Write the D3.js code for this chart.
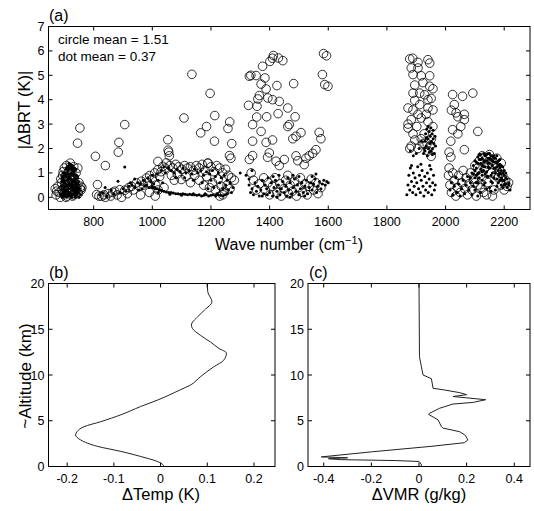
<!DOCTYPE html>
<html><head><meta charset="utf-8">
<script src="https://cdn.jsdelivr.net/npm/d3@7"></script>
<style>body{margin:0;background:#fff}svg{display:block}text{font-family:"Liberation Sans",Arial,sans-serif;fill:#000}</style>
</head><body><svg id="c" width="534" height="511"></svg>
<script>
// ---------- Panel (a): open circles [wave number, |dBRT|] ----------
const circles700 = [[669,0.35],[672,0.1],[678,0.45],[682,0.2],[686,0.0],[690,0.6],[692,0.3],[694,0.9],[698,0.15],[700,1.2],[702,0.5],[704,0.75],[707,1.3],[709,0.05],[711,0.4],[713,1.0],[716,0.2],[718,0.65],[720,1.4],[722,0.9],[724,0.3],[726,1.1],[728,0.05],[730,0.55],[732,1.25],[734,0.8],[736,0.25],[738,0.45],[740,1.0],[743,0.35],[746,1.2],[748,0.15],[750,0.6],[754,0.35],[757,0.3],[745,2.22],[753,2.84],[706,0.0],[688,0.75],[674,0.25],[696,1.05],[703,0.85],[731,0.1],[756,0.45],[760,0.4]];
const circles900 = [[806,1.68],[840,1.3],[813,0.52],[886,2.25],[884,1.85],[906,2.98],[810,0.11],[818,0.05],[827,0.04],[835,0.1],[840,0.0],[849,0.15],[858,0.05],[865,0.2],[872,0.25],[880,0.1],[889,0.31],[895,0.0],[906,0.29],[915,0.15],[920,0.4],[929,0.45],[935,0.3],[946,0.59],[955,0.45],[963,0.66],[970,0.5],[980,0.79],[985,0.6],[991,0.89],[1000,0.75],[1008,1.0],[1012,0.5],[1019,1.13],[1025,0.85],[1036,1.27],[1040,0.4],[1048,1.41],[1030,1.05],[1045,1.2],[960,0.1],[990,0.2],[1010,0.05],[1020,0.3],[1019,1.47],[1053,2.36],[1054,1.93],[1056,1.85],[1058,1.7]];
const circles1150 = [[1060,1.3],[1070,1.2],[1080,1.35],[1090,1.25],[1100,1.15],[1110,1.3],[1120,1.2],[1130,1.25],[1140,1.1],[1150,1.3],[1160,1.2],[1170,1.35],[1180,1.1],[1190,1.4],[1200,1.25],[1210,1.05],[1220,1.3],[1230,1.2],[1240,1.0],[1250,1.15],[1260,0.9],[1270,0.8],[1280,0.7],[1065,0.9],[1075,0.7],[1085,0.95],[1099,0.73],[1115,0.85],[1130,0.6],[1145,0.9],[1160,0.7],[1175,0.5],[1185,0.85],[1195,0.4],[1205,0.6],[1215,0.3],[1225,0.75],[1235,0.45],[1245,0.25],[1255,0.5],[1265,0.35],[1240,0.1],[1230,0.05],[1108,3.25],[1135,5.04],[1165,2.64],[1185,2.9],[1197,4.26],[1213,3.35],[1258,2.82],[1264,3.09],[1212,2.3],[1271,2.2],[1263,1.71],[1268,1.6],[1189,1.4]];
const circles1450 = [[1413,5.81],[1430,5.71],[1445,5.6],[1401,5.57],[1410,5.7],[1376,5.37],[1331,4.96],[1336,5.0],[1354,4.99],[1384,4.89],[1371,4.64],[1388,4.44],[1425,4.58],[1482,4.66],[1365,4.17],[1360,4.03],[1394,4.07],[1410,4.0],[1433,3.93],[1357,3.73],[1462,3.66],[1429,3.43],[1487,3.3],[1390,3.3],[1584,5.89],[1594,5.8],[1580,5.03],[1588,4.62],[1599,4.55],[1328,3.77],[1356,3.29],[1342,2.98],[1371,2.7],[1342,2.3],[1388,2.25],[1410,2.35],[1467,2.98],[1462,2.9],[1490,2.5],[1507,2.65],[1479,2.4],[1569,2.66],[1575,2.4],[1558,1.95],[1547,1.8],[1535,1.7],[1524,1.6],[1518,1.34],[1331,1.55],[1342,1.71],[1399,1.82],[1393,1.64],[1422,1.48],[1450,1.55],[1433,1.3],[1462,0.9],[1337,1.0],[1490,1.7],[1496,1.5],[1385,0.3],[1395,0.6],[1400,0.1],[1410,0.45],[1418,0.8],[1425,0.2],[1435,0.55],[1440,0.05],[1448,0.35],[1455,0.7],[1465,0.15],[1470,0.5],[1478,0.25],[1485,0.65],[1492,0.05],[1500,0.4],[1505,0.8],[1512,0.2],[1520,0.55],[1528,0.1],[1535,0.45],[1542,0.75],[1550,0.3],[1558,0.6],[1565,0.15],[1575,0.4],[1380,0.8],[1345,0.7],[1355,0.3],[1365,0.55]];
const circles1900 = [[1878,5.67],[1888,5.7],[1906,5.53],[1940,5.64],[1946,5.5],[1883,5.3],[1906,5.3],[1889,5.03],[1917,4.98],[1946,4.98],[1895,4.6],[1923,4.7],[1946,4.55],[1957,4.45],[1889,4.27],[1912,4.27],[1929,4.2],[1940,4.0],[1951,4.05],[1895,3.97],[1912,3.8],[1872,3.66],[1889,3.58],[1940,3.66],[1957,3.58],[1906,3.4],[1934,3.4],[1883,3.18],[1917,3.25],[1940,3.1],[1872,2.84],[1889,2.6],[1895,2.35],[1883,2.1],[1878,2.0],[1906,2.0],[1923,2.2],[1940,1.9],[1951,1.68],[1927,2.6],[1952,2.4],[1957,2.9],[1902,2.9],[1872,3.0],[1917,2.4],[1937,2.2],[1947,2.1]];
const circles2100 = [[2024,4.21],[2058,4.14],[2093,4.27],[2030,3.8],[2036,3.46],[2064,3.4],[2020,3.57],[2042,3.3],[2024,2.77],[2042,2.6],[2018,2.3],[2064,1.95],[2012,1.85],[2018,1.65],[2012,1.2],[2064,3.18],[2110,2.7],[2052,2.9],[2010,0.9],[2015,0.5],[2020,0.2],[2025,1.0],[2030,0.7],[2035,0.05],[2040,0.4],[2045,0.9],[2050,0.2],[2055,0.6],[2060,1.1],[2065,0.35],[2070,0.8],[2075,0.1],[2080,0.55],[2085,1.0],[2090,0.3],[2095,0.75],[2100,1.3],[2105,0.05],[2110,0.5],[2115,1.5],[2120,0.9],[2125,1.7],[2130,0.2],[2135,1.2],[2140,1.6],[2145,0.6],[2150,1.75],[2155,1.0],[2160,1.5],[2165,0.3],[2170,1.3],[2175,1.6],[2180,0.8],[2185,1.1],[2190,0.5],[2195,0.9],[2200,0.3],[2205,0.7],[2210,0.45],[2215,0.6],[2140,0.1],[2160,0.05],[2120,0.4],[2100,0.6],[2170,0.9],[2190,1.4],[2110,1.2],[2145,1.35]];

// ---------- Panel (a): dots [wave number, |dBRT|] ----------
const dots700 = [[688,0.1],[690,0.3],[692,0.0],[694,0.5],[695,0.2],[697,0.8],[698,0.05],[700,0.4],[701,0.65],[702,1.0],[703,0.15],[704,0.3],[705,0.55],[706,0.85],[707,1.2],[708,0.0],[709,0.25],[710,0.45],[711,0.7],[712,0.95],[713,1.1],[714,0.1],[715,0.35],[716,0.6],[717,0.8],[718,1.3],[719,0.05],[720,0.2],[721,0.5],[722,0.75],[723,1.0],[724,1.2],[725,0.3],[726,0.0],[727,0.6],[728,0.9],[729,0.15],[730,0.4],[731,0.7],[732,1.05],[733,0.25],[734,0.5],[735,0.8],[736,0.05],[737,0.35],[738,0.6],[739,1.15],[740,0.2],[741,0.45],[742,0.75],[744,0.1],[745,0.3],[746,0.55],[748,0.2],[750,0.0],[752,0.35],[755,0.1],[700,0.9],[696,0.7],[712,0.25],[725,0.9],[718,0.55],[709,1.0],[730,0.95],[715,1.25],[720,1.35],[727,1.3],[693,0.1],[699,0.25],[724,0.45],[735,0.15],[705,0.05]];
const dots700b = [[689,0.45],[691,0.65],[693,0.85],[695,1.0],[697,0.35],[699,0.6],[701,0.1],[703,0.95],[705,1.15],[707,0.3],[709,0.7],[711,0.15],[713,0.5],[715,0.85],[717,0.15],[719,0.95],[721,1.15],[723,0.4],[725,0.65],[727,0.1],[729,1.1],[731,0.3],[733,0.9],[735,1.2],[737,0.7],[739,0.4],[741,0.9],[743,0.55],[745,0.85],[747,0.4],[749,0.65],[710,1.25],[716,1.4],[722,1.3],[728,1.2],[714,0.75],[726,0.5],[732,0.65],[706,0.45],[738,0.0],[742,0.25],[698,0.45]];
const dots1000 = [[906,1.24],[883,0.66],[839,0.4],[830,0.2],[820,0.1],[845,0.05],[860,0.3],[870,0.15],[890,0.2],[900,0.35],[910,0.25],[920,0.45],[930,0.5],[940,0.4],[950,0.6],[960,0.55],[970,0.7],[975,0.45],[985,0.8],[995,0.65],[1000,0.9],[1005,0.55],[1015,0.95],[1020,0.7],[1030,1.1],[1035,0.6],[1045,1.0],[1040,1.25],[965,0.35],[980,0.5],[955,0.3],[990,0.4],[1010,0.35],[1025,0.3],[1000,0.4],[940,0.75],[925,0.6],[1000,0.45],[1008,0.4],[1016,0.35],[1024,0.3],[1032,0.28],[1040,0.25],[1048,0.22],[1056,0.2],[1064,0.2],[1072,0.18],[1080,0.15],[1088,0.15],[1096,0.12],[1104,0.15],[1112,0.12],[1120,0.1],[1128,0.12],[1136,0.1],[1144,0.1],[1152,0.08],[1160,0.1],[1168,0.05],[1176,0.08],[1184,0.1],[1192,0.05],[1200,0.08],[1208,0.1],[1216,0.05],[1224,0.1],[1232,0.08],[1240,0.05],[1248,0.1],[1256,0.15],[1020,0.2],[1060,0.12],[1100,0.08],[1140,0.15],[1180,0.15],[1220,0.15],[1055,1.2],[1065,1.1],[1075,1.0],[1085,1.15],[1095,1.05],[1105,1.2],[1115,1.0],[1125,1.1],[1135,0.95],[1145,1.15],[1155,1.0],[1165,1.1],[1175,0.9],[1185,1.05],[1195,0.95],[1205,1.1],[1215,0.85],[1225,1.0],[1235,0.8],[1245,0.9],[1255,0.7],[1265,0.6],[1275,0.4],[1270,0.2],[1260,0.3],[1250,0.5],[1230,0.6],[1200,0.7],[1170,0.6],[1140,0.7],[1110,0.8],[1080,0.8],[1210,0.4],[1190,0.35],[1240,0.35]];
const dots1450 = [[1330,0.5],[1335,0.2],[1340,0.35],[1345,0.1],[1350,0.6],[1355,0.25],[1360,0.45],[1365,0.05],[1370,0.3],[1375,0.7],[1380,0.15],[1385,0.5],[1390,0.35],[1395,0.8],[1400,0.2],[1405,0.6],[1410,0.05],[1415,0.4],[1420,0.7],[1425,0.25],[1430,0.5],[1435,0.1],[1440,0.35],[1445,0.65],[1450,0.2],[1455,0.45],[1460,0.05],[1465,0.3],[1470,0.6],[1475,0.15],[1480,0.4],[1485,0.75],[1490,0.25],[1495,0.5],[1500,0.1],[1505,0.35],[1510,0.6],[1515,0.2],[1520,0.45],[1525,0.7],[1530,0.15],[1535,0.4],[1540,0.6],[1545,0.3],[1550,0.55],[1555,0.75],[1560,0.2],[1565,0.45],[1570,0.65],[1575,0.35],[1580,0.55],[1585,0.7],[1590,0.5],[1595,0.65],[1600,0.6],[1300,1.0],[1320,0.9],[1340,1.1],[1330,0.75],[1412,0.85],[1392,0.1],[1462,0.8],[1432,0.9],[1500,0.85],[1545,0.85],[1520,0.05],[1470,0.0],[1425,0.0],[1375,0.05],[1558,0.95],[1480,0.9]];
const dots1900 = [[1868,0.1],[1872,0.5],[1875,0.9],[1878,0.3],[1880,1.2],[1884,0.65],[1888,0.2],[1890,1.0],[1893,0.45],[1896,0.8],[1899,0.1],[1902,0.6],[1905,1.25],[1908,0.35],[1911,0.9],[1914,0.2],[1917,0.7],[1920,1.1],[1923,0.45],[1926,0.05],[1929,0.85],[1932,0.3],[1935,0.6],[1938,1.0],[1941,0.2],[1944,0.75],[1947,0.45],[1950,1.15],[1953,0.1],[1956,0.6],[1959,0.9],[1962,0.3],[1965,0.5],[1884,1.3],[1916,1.35],[1946,1.3],[1925,1.8],[1928,2.0],[1930,2.3],[1932,2.6],[1934,2.1],[1936,2.8],[1938,1.7],[1940,2.4],[1942,2.0],[1944,2.7],[1946,2.2],[1948,2.5],[1950,1.9],[1952,2.3],[1954,2.6],[1956,2.0],[1958,2.4],[1960,2.2],[1962,1.8],[1964,2.5],[1966,2.1],[1940,2.9],[1950,2.85],[1958,2.75],[1935,2.45],[1945,1.85],[1955,1.75],[1930,1.9],[1918,2.3],[1910,2.0],[1900,1.8],[1890,1.7],[1880,1.9]];
const dots2100 = [[2015,0.3],[2020,0.6],[2025,0.1],[2030,0.45],[2035,0.8],[2040,0.2],[2045,0.55],[2050,0.05],[2055,0.35],[2060,0.7],[2065,0.15],[2070,0.5],[2075,0.85],[2080,0.3],[2085,0.6],[2090,1.0],[2095,0.45],[2100,0.8],[2105,1.2],[2110,0.6],[2115,1.0],[2120,1.4],[2125,0.7],[2130,1.1],[2135,1.5],[2140,0.85],[2145,1.25],[2150,1.6],[2155,0.9],[2160,1.3],[2165,1.7],[2170,1.0],[2175,1.4],[2180,0.6],[2185,1.2],[2190,0.8],[2195,1.0],[2200,0.5],[2205,0.8],[2210,0.4],[2215,0.6],[2220,0.3],[2100,1.5],[2110,1.65],[2120,1.75],[2130,1.8],[2140,1.75],[2150,1.8],[2160,1.7],[2170,1.6],[2180,1.5],[2190,1.3],[2200,1.1],[2105,1.45],[2115,1.55],[2125,1.6],[2135,1.7],[2145,1.6],[2155,1.55],[2165,1.45],[2175,1.25],[2185,1.0],[2195,0.7],[2205,0.55],[2150,0.4],[2160,0.6],[2170,0.3],[2180,0.9],[2190,0.5],[2130,0.5],[2120,0.2],[2140,0.35],[2100,0.3],[2090,0.1],[2110,0.05],[2125,1.3],[2145,1.4],[2165,1.2],[2185,1.35],[2115,0.8],[2135,0.95]];
const dots2100b = [[2095,1.3],[2100,1.1],[2105,0.9],[2110,1.4],[2115,1.75],[2120,1.55],[2125,1.05],[2130,1.45],[2135,1.25],[2140,1.5],[2145,1.8],[2150,1.4],[2155,1.7],[2160,1.5],[2165,1.6],[2170,1.45],[2175,1.7],[2180,1.3],[2185,1.55],[2190,1.1],[2195,1.25],[2200,0.9],[2205,1.0],[2210,0.75],[2215,0.5],[2120,1.15],[2130,1.25],[2140,1.05],[2150,1.2],[2160,1.0],[2170,1.2],[2180,1.1],[2190,0.95],[2200,0.7],[2135,0.6],[2145,0.85],[2155,0.65],[2165,0.8],[2175,0.75],[2185,0.7],[2195,0.4],[2175,0.45],[2155,0.25],[2125,0.9],[2110,0.95],[2105,0.6],[2095,0.95],[2085,0.8]];

const circleMean = "1.51", dotMean = "0.37";
const wnTicks = [800,1000,1200,1400,1600,1800,2000,2200];
const brtTicks = [0,1,2,3,4,5,6,7];

// ---------- Panel (b) and (c) ----------
const altTicks = [0,5,10,15,20];
const tempTicks = [-0.2,-0.1,0,0.1,0.2];
const vmrTicks = [-0.4,-0.2,0,0.2,0.4];
const tempAlt = [0,0.2,0.55,1.1,1.65,2.2,2.9,3.45,3.8,4.35,4.9,5.65,6.55,7.25,7.8,8.4,8.9,9.8,10.9,11.6,12.4,12.9,13.6,14.35,15.1,15.45,16.4,17.1,18.0,19.1,20];
const tempVal = [0.007,0.005,-0.007,-0.043,-0.085,-0.135,-0.171,-0.182,-0.179,-0.164,-0.128,-0.085,-0.043,-0.007,0.018,0.043,0.064,0.085,0.114,0.135,0.141,0.125,0.107,0.085,0.068,0.066,0.08,0.094,0.11,0.101,0.1];
const vmrAlt = [0,0.2,0.4,0.55,0.65,0.75,0.85,0.95,1.05,1.6,2.2,2.6,2.9,3.4,3.8,4.2,4.36,5.1,5.7,5.82,6.37,6.83,7.0,7.3,7.65,7.85,8.07,8.36,8.55,9.6,10.0,10.9,12,20];
const vmrVal = [0.01,0.01,0.005,0.0,-0.1,-0.33,-0.38,-0.3,-0.41,-0.2,0.05,0.19,0.205,0.195,0.171,0.1,0.094,0.08,0.04,0.045,0.087,0.143,0.226,0.28,0.143,0.2,0.171,0.108,0.059,0.052,0.017,0.01,0.002,0.0];

const svg = d3.select("#c");

function frame(x, y, xt, yt, fx, fy) {
  const [x0,x1] = x.range(), [y0,y1] = y.range();
  const g = svg.append("g");
  g.append("rect").attr("x",x0).attr("y",y1).attr("width",x1-x0).attr("height",y0-y1)
    .attr("fill","none").attr("stroke","#000").attr("stroke-width",1);
  xt.forEach(t => {
    const px = x(t);
    g.append("line").attr("x1",px).attr("x2",px).attr("y1",y0).attr("y2",y0-4).attr("stroke","#000");
    g.append("line").attr("x1",px).attr("x2",px).attr("y1",y1).attr("y2",y1+4).attr("stroke","#000");
    g.append("text").attr("x",px).attr("y",y0+16).attr("text-anchor","middle").attr("font-size",12.5).text(fx(t));
  });
  yt.forEach(t => {
    const py = y(t);
    g.append("line").attr("x1",x0).attr("x2",x0+4).attr("y1",py).attr("y2",py).attr("stroke","#000");
    g.append("line").attr("x1",x1).attr("x2",x1-4).attr("y1",py).attr("y2",py).attr("stroke","#000");
    g.append("text").attr("x",x0-4).attr("y",py+4.5).attr("text-anchor","end").attr("font-size",12.5).text(fy(t));
  });
}
const fmtSigned = d => (d<0?"-":"") + Math.abs(d);

// Panel (a)
const xa = d3.scaleLinear().domain([646,2288]).range([48.5,530]);
const ya = d3.scaleLinear().domain([-0.5,7]).range([209.5,26.5]);
const allCircles = [].concat(circles700,circles900,circles1150,circles1450,circles1900,circles2100);
const allDots = [].concat(dots700,dots700b,dots1000,dots1450,dots1900,dots2100,dots2100b);
const pa = svg.append("g");
pa.selectAll("circle.o").data(allCircles).join("circle").attr("class","o")
  .attr("cx",d=>xa(d[0])).attr("cy",d=>ya(d[1])).attr("r",4.3)
  .attr("fill","none").attr("stroke","#000").attr("stroke-width",0.8);
pa.selectAll("circle.d").data(allDots).join("circle").attr("class","d")
  .attr("cx",d=>xa(d[0])).attr("cy",d=>ya(d[1])).attr("r",1.5).attr("fill","#000");
frame(xa, ya, wnTicks, brtTicks, d=>d, d=>d);
svg.append("text").attr("x",58).attr("y",44).attr("font-size",13.5).text("circle mean = " + circleMean);
svg.append("text").attr("x",58).attr("y",61).attr("font-size",13.5).text("dot mean = " + dotMean);
svg.append("text").attr("x",49).attr("y",21).attr("font-size",16).text("(a)");
svg.append("text").attr("transform","translate(30,110) rotate(-90)").attr("text-anchor","middle").attr("font-size",16.5).text("|\u0394BRT (K)|");
const xl = svg.append("text").attr("x",289).attr("y",250).attr("text-anchor","middle").attr("font-size",16);
xl.append("tspan").text("Wave number (cm");
xl.append("tspan").attr("font-size",11).attr("dy",-6).text("\u22121");
xl.append("tspan").attr("dy",6).text(")");

// Panel (b)
const xb = d3.scaleLinear().domain([-0.24,0.245]).range([48.5,275]);
const yb = d3.scaleLinear().domain([0,20]).range([466.5,283.5]);
svg.append("path").datum(d3.range(tempAlt.length))
  .attr("d", d3.line().x(i=>xb(tempVal[i])).y(i=>yb(tempAlt[i])).curve(d3.curveMonotoneY))
  .attr("fill","none").attr("stroke","#222").attr("stroke-width",1);
frame(xb, yb, tempTicks, altTicks, fmtSigned, d=>d);
svg.append("text").attr("x",49).attr("y",278).attr("font-size",16).text("(b)");
svg.append("text").attr("x",161).attr("y",500).attr("text-anchor","middle").attr("font-size",16.5).text("\u0394Temp (K)");
svg.append("text").attr("transform","translate(31,376) rotate(-90)").attr("text-anchor","middle").attr("font-size",17).text("~Altitude (km)");

// Panel (c)
const xc = d3.scaleLinear().domain([-0.466,0.466]).range([308,530]);
const yc = d3.scaleLinear().domain([0,20]).range([466.5,283.5]);
svg.append("path").datum(d3.range(vmrAlt.length))
  .attr("d", d3.line().x(i=>xc(vmrVal[i])).y(i=>yc(vmrAlt[i])))
  .attr("fill","none").attr("stroke","#222").attr("stroke-width",1);
frame(xc, yc, vmrTicks, altTicks, fmtSigned, d=>d);
svg.append("text").attr("x",309).attr("y",278).attr("font-size",16).text("(c)");
svg.append("text").attr("x",419).attr("y",500).attr("text-anchor","middle").attr("font-size",16.5).text("\u0394VMR (g/kg)");
</script></body></html>
